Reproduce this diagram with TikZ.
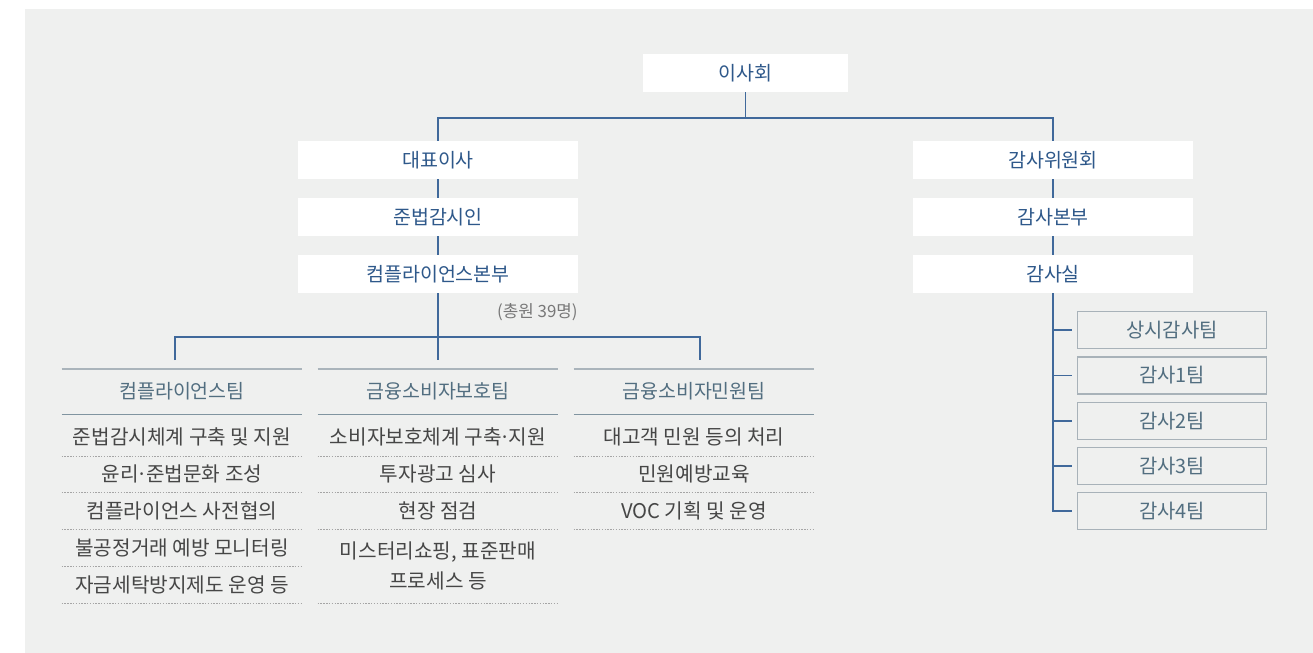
\documentclass[tikz,border=0pt]{standalone}
\usepackage{fontspec}
\setmainfont{Noto Sans CJK KR}
\usepackage{tikz}
\definecolor{panel}{RGB}{239,240,239}
\definecolor{boxtext}{RGB}{46,88,138}
\definecolor{linkblue}{RGB}{64,105,155}
\definecolor{teamtext}{RGB}{82,110,128}
\definecolor{itemtext}{RGB}{70,70,70}
\definecolor{frame}{RGB}{168,178,185}
\definecolor{headtop}{RGB}{170,180,187}
\definecolor{headbot}{RGB}{128,148,160}
\definecolor{dots}{RGB}{165,165,165}
\definecolor{notegray}{RGB}{120,120,120}
\newcommand{\tightdot}{\kern-0.1em·\kern-0.1em}
\pgfdeclarelayer{bglayer}
\pgfdeclarelayer{edgelayer}
\pgfdeclarelayer{nodelayer}
\pgfsetlayers{bglayer,edgelayer,nodelayer,main}
\tikzstyle{unit}=[fill=white,text=boxtext,minimum width=5.6cm,minimum height=0.76cm,inner sep=0pt,font=\fontsize{11.1pt}{13pt}\selectfont]
\tikzstyle{auditteam}=[fill=panel,draw=frame,line width=0.8pt,text=teamtext,minimum width=3.78cm,minimum height=0.74cm,inner sep=0pt,font=\fontsize{11.3pt}{13pt}\selectfont]
\tikzstyle{header}=[text=teamtext,minimum width=4.8cm,minimum height=0.9cm,inner sep=0pt,font=\fontsize{11.1pt}{13pt}\selectfont]
\tikzstyle{duty}=[text=itemtext,minimum width=4.8cm,minimum height=0.736cm,inner sep=0pt,align=center,font=\fontsize{11.5pt}{17pt}\selectfont]
\tikzstyle{link}=[draw=linkblue,line width=0.9pt]
\tikzstyle{rowline}=[draw=dots,line width=0.5pt,dash pattern=on 0.8pt off 0.8pt]

\begin{document}
\begin{tikzpicture}[x=0.02cm,y=-0.02cm]
        \useasboundingbox (0,0) rectangle (1313,653);
        \begin{pgfonlayer}{bglayer}
            \fill [panel] (25,9) rectangle (1313,653);
        \end{pgfonlayer}

        \begin{pgfonlayer}{nodelayer}
            \node [style = unit, minimum width=4.1cm] (board) at (745.5, 73) {이사회};

            \node [style = unit] (ceo) at (438, 160) {대표이사};
            \node [style = unit] (officer) at (438, 217) {준법감시인};
            \node [style = unit] (hq) at (438, 274) {컴플라이언스본부};
            \node [text=notegray, anchor=east, inner sep=0pt, font=\fontsize{9.6pt}{11pt}\selectfont] (staff) at (578, 312) {(총원 39명)};

            \node [style = unit] (committee) at (1053, 160) {감사위원회};
            \node [style = unit] (audithq) at (1053, 217) {감사본부};
            \node [style = unit] (auditoffice) at (1053, 274) {감사실};

            \node [style = auditteam] (audit0) at (1172, 330.2) {상시감사팀};
            \node [style = auditteam] (audit1) at (1172, 375.5) {감사1팀};
            \node [style = auditteam] (audit2) at (1172, 420.8) {감사2팀};
            \node [style = auditteam] (audit3) at (1172, 466) {감사3팀};
            \node [style = auditteam] (audit4) at (1172, 511.2) {감사4팀};

            \node [style = header] (teamA) at (182, 391.5) {컴플라이언스팀};
            \node [style = header] (teamB) at (438, 391.5) {금융소비자보호팀};
            \node [style = header] (teamC) at (694, 391.5) {금융소비자민원팀};

            \node [style = duty] (a1) at (182, 437.3) {준법감시체계 구축 및 지원};
            \node [style = duty] (a2) at (182, 474.1) {윤리\tightdot 준법문화 조성};
            \node [style = duty] (a3) at (182, 510.9) {컴플라이언스 사전협의};
            \node [style = duty] (a4) at (182, 547.7) {불공정거래 예방 모니터링};
            \node [style = duty] (a5) at (182, 584.5) {자금세탁방지제도 운영 등};

            \node [style = duty] (b1) at (438, 437.3) {소비자보호체계 구축\tightdot 지원};
            \node [style = duty] (b2) at (438, 474.1) {투자광고 심사};
            \node [style = duty] (b3) at (438, 510.9) {현장 점검};
            \node [style = duty, minimum height=1.472cm] (b4) at (438, 566.1) {미스터리쇼핑, 표준판매\\프로세스 등};

            \node [style = duty] (c1) at (694, 437.3) {대고객 민원 등의 처리};
            \node [style = duty] (c2) at (694, 474.1) {민원예방교육};
            \node [style = duty] (c3) at (694, 510.9) {VOC 기획 및 운영};

            \coordinate (root) at (745.5, 118);
            \coordinate (rootL) at (438, 118);
            \coordinate (rootR) at (1053, 118);
            \coordinate (bar) at (700, 337);
            \coordinate (dropA) at (175, 360);
            \coordinate (dropB) at (438, 360);
            \coordinate (dropC) at (700, 360);
        \end{pgfonlayer}

        \begin{pgfonlayer}{edgelayer}
            \draw [style = link] (board) to (root);
            \draw [style = link] (ceo) -- (rootL) -- (rootR) -- (committee);

            \draw [style = link] (ceo) to (officer);
            \draw [style = link] (officer) to (hq);
            \draw [style = link] (hq) to (dropB);
            \draw [style = link] (dropA) |- (bar) -- (dropC);

            \draw [style = link] (committee) to (audithq);
            \draw [style = link] (audithq) to (auditoffice);
            \draw [style = link, shorten >=3] (auditoffice) |- (audit0);
            \draw [style = link, shorten >=3] (auditoffice) |- (audit1);
            \draw [style = link, shorten >=3] (auditoffice) |- (audit2);
            \draw [style = link, shorten >=3] (auditoffice) |- (audit3);
            \draw [style = link, shorten >=3] (auditoffice) |- (audit4);

            \draw [draw=headtop, line width=1.2pt] (teamA.north west) -- (teamA.north east);
            \draw [draw=headtop, line width=1.2pt] (teamB.north west) -- (teamB.north east);
            \draw [draw=headtop, line width=1.2pt] (teamC.north west) -- (teamC.north east);
            \draw [draw=headbot, line width=0.8pt] (teamA.south west) -- (teamA.south east);
            \draw [draw=headbot, line width=0.8pt] (teamB.south west) -- (teamB.south east);
            \draw [draw=headbot, line width=0.8pt] (teamC.south west) -- (teamC.south east);

            \draw [style = rowline] (a1.south west) -- (a1.south east);
            \draw [style = rowline] (a2.south west) -- (a2.south east);
            \draw [style = rowline] (a3.south west) -- (a3.south east);
            \draw [style = rowline] (a4.south west) -- (a4.south east);
            \draw [style = rowline] (a5.south west) -- (a5.south east);

            \draw [style = rowline] (b1.south west) -- (b1.south east);
            \draw [style = rowline] (b2.south west) -- (b2.south east);
            \draw [style = rowline] (b3.south west) -- (b3.south east);
            \draw [style = rowline] (b4.south west) -- (b4.south east);

            \draw [style = rowline] (c1.south west) -- (c1.south east);
            \draw [style = rowline] (c2.south west) -- (c2.south east);
            \draw [style = rowline] (c3.south west) -- (c3.south east);
        \end{pgfonlayer}
    \end{tikzpicture}
\end{document}
